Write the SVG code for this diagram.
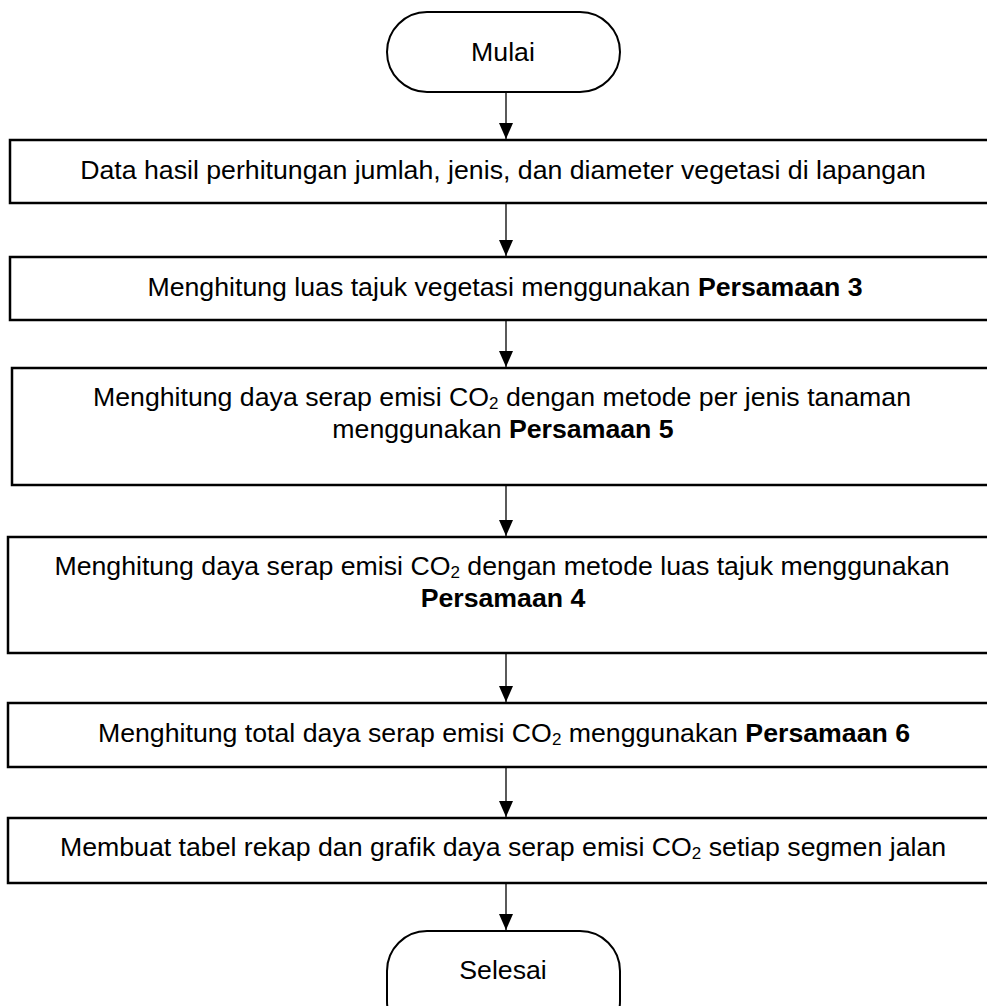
<svg xmlns="http://www.w3.org/2000/svg" width="987" height="1006" viewBox="0 0 987 1006">
<style>
.box{fill:#fff;stroke:#000;stroke-width:2.5}
.term{fill:#fff;stroke:#000;stroke-width:2}
.t{font-family:"Liberation Sans",Arial,sans-serif;font-size:26.7px;fill:#000;text-anchor:middle}
.b{font-weight:bold}
.sub{font-size:17px}
.c{stroke:#000;stroke-width:1.3;fill:none;marker-end:url(#arr)}
</style>
<defs>
<marker id="arr" markerUnits="userSpaceOnUse" markerWidth="16" markerHeight="14" viewBox="0 0 16 14" refX="16" refY="7" orient="auto">
<path d="M0,0 L16,7 L0,14 Z" fill="#000"/>
</marker>
</defs>
<rect width="987" height="1006" fill="#fff"/>
<g id="start"><rect class="term" x="387" y="12" width="233" height="80" rx="40"/><text class="t" x="503" y="61">Mulai</text></g>
<g id="n1"><rect class="box" x="10" y="140" width="992" height="63"/><text class="t" x="503" y="179">Data hasil perhitungan jumlah, jenis, dan diameter vegetasi di lapangan</text></g>
<g id="n2"><rect class="box" x="10" y="257" width="992" height="63"/><text class="t" x="505" y="296">Menghitung luas tajuk vegetasi menggunakan <tspan class="b">Persamaan 3</tspan></text></g>
<g id="n3"><rect class="box" x="12" y="368" width="992" height="117"/><text class="t" x="502" y="406">Menghitung daya serap emisi CO<tspan class="sub" dy="3">2</tspan><tspan dy="-3"> dengan metode per jenis tanaman</tspan></text><text class="t" x="503" y="438">menggunakan <tspan class="b">Persamaan 5</tspan></text></g>
<g id="n4"><rect class="box" x="8" y="537" width="992" height="116"/><text class="t" x="502" y="575">Menghitung daya serap emisi CO<tspan class="sub" dy="3">2</tspan><tspan dy="-3"> dengan metode luas tajuk menggunakan</tspan></text><text class="t b" x="503" y="607">Persamaan 4</text></g>
<g id="n5"><rect class="box" x="8" y="703" width="992" height="64"/><text class="t" x="504" y="742">Menghitung total daya serap emisi CO<tspan class="sub" dy="3">2</tspan><tspan dy="-3"> menggunakan </tspan><tspan class="b">Persamaan 6</tspan></text></g>
<g id="n6"><rect class="box" x="8" y="818" width="992" height="65"/><text class="t" x="503" y="856">Membuat tabel rekap dan grafik daya serap emisi CO<tspan class="sub" dy="3">2</tspan><tspan dy="-3"> setiap segmen jalan</tspan></text></g>
<g id="end"><rect class="term" x="387" y="931" width="233" height="110" rx="40"/><text class="t" x="503" y="979">Selesai</text></g>
<g id="connectors">
<path class="c" d="M506,92 V139"/>
<path class="c" d="M506,203 V256"/>
<path class="c" d="M506,320 V367"/>
<path class="c" d="M506,485 V536"/>
<path class="c" d="M506,653 V702"/>
<path class="c" d="M506,767 V817"/>
<path class="c" d="M506,883 V930"/>
</g>
</svg>
